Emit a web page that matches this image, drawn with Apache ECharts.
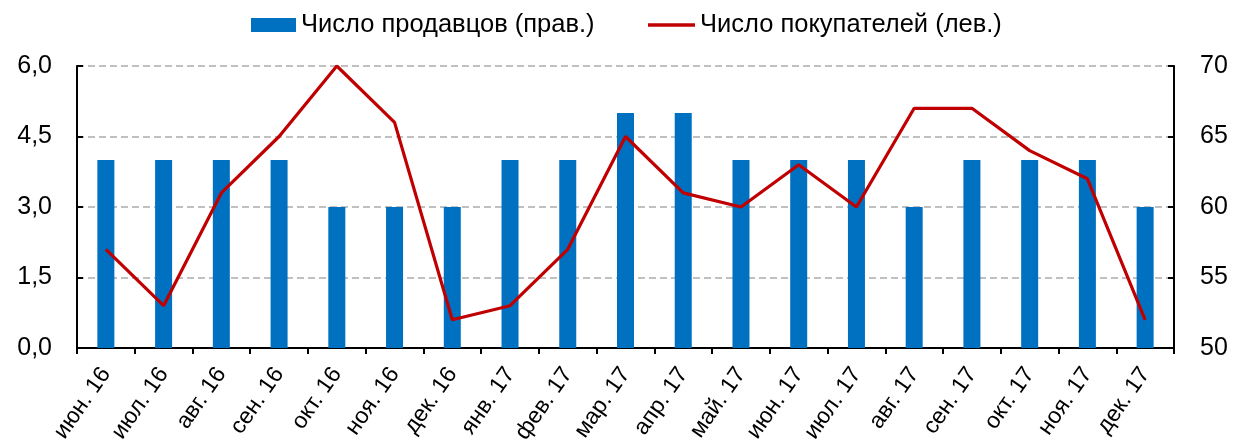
<!DOCTYPE html>
<html><head><meta charset="utf-8">
<script src="https://cdn.jsdelivr.net/npm/echarts@6/dist/echarts.min.js"></script>
<style>html,body{margin:0;padding:0;background:#fff}#c{width:1234px;height:442px}</style>
</head><body><div id="c"></div>
<script>
const categories = ['июн. 16','июл. 16','авг. 16','сен. 16','окт. 16','ноя. 16','дек. 16','янв. 17','фев. 17','мар. 17','апр. 17','май. 17','июн. 17','июл. 17','авг. 17','сен. 17','окт. 17','ноя. 17','дек. 17'];
const sellers = [4,4,4,4,3,3,3,4,4,5,5,4,4,4,3,4,4,4,3];
const buyers = [57,53,61,65,70,66,52,53,57,65,61,60,63,60,67,67,64,62,52];
const leftTicks = [0, 6, 1.5];   // min, max, step
const rightTicks = [50, 70, 5];  // min, max, step
const sellersName = 'Число продавцов (прав.)';
const buyersName = 'Число покупателей (лев.)';

const chart = echarts.init(document.getElementById('c'), null, {renderer:'canvas'});
const font = 'Liberation Sans, Arial, sans-serif';
const legendText = {fontSize:25.5, color:'#000', fontFamily:font};
chart.setOption({
  animation:false,
  textStyle:{fontFamily:font},
  legend:[
    {left:251, top:12, itemWidth:45, itemHeight:14, padding:0,
     textStyle:legendText, data:[{name:sellersName, icon:'rect'}]},
    {left:648, top:12, itemWidth:47, itemHeight:3.5, padding:0,
     textStyle:legendText, data:[{name:buyersName, icon:'rect'}]}
  ],
  grid:{left:77, right:60, top:66, bottom:94, containLabel:false, outerBoundsMode:'none'},
  xAxis:{
    type:'category', data:categories, boundaryGap:true,
    axisLine:{lineStyle:{color:'#000', width:2}},
    axisTick:{show:true, length:6, lineStyle:{color:'#000', width:2}},
    axisLabel:{rotate:55, fontSize:23, color:'#000', fontFamily:font, margin:22, interval:0}
  },
  yAxis:[
    {type:'value', min:leftTicks[0], max:leftTicks[1], interval:leftTicks[2], position:'left',
     axisLine:{show:true, lineStyle:{color:'#000', width:2}},
     axisTick:{show:true, inside:true, length:6, lineStyle:{color:'#000', width:2}},
     axisLabel:{fontSize:25, color:'#000', fontFamily:font, margin:25,
       formatter:v=>v.toFixed(1).replace('.',',')},
     splitLine:{show:true, lineStyle:{color:'#C0C0C0', width:2, type:[7,4]}}},
    {type:'value', min:rightTicks[0], max:rightTicks[1], interval:rightTicks[2], position:'right',
     axisLine:{show:true, lineStyle:{color:'#000', width:2}},
     axisTick:{show:true, inside:true, length:6, lineStyle:{color:'#000', width:2}},
     axisLabel:{fontSize:25, color:'#000', fontFamily:font, margin:26},
     splitLine:{show:false}}
  ],
  series:[
    {name:sellersName, type:'bar', yAxisIndex:0, data:sellers, barWidth:17,
     itemStyle:{color:'#0070C0'}},
    {name:buyersName, type:'line', yAxisIndex:1, data:buyers, symbol:'none',
     lineStyle:{color:'#C00000', width:3.2}, itemStyle:{color:'#C00000'}, z:5}
  ]
});
</script></body></html>
